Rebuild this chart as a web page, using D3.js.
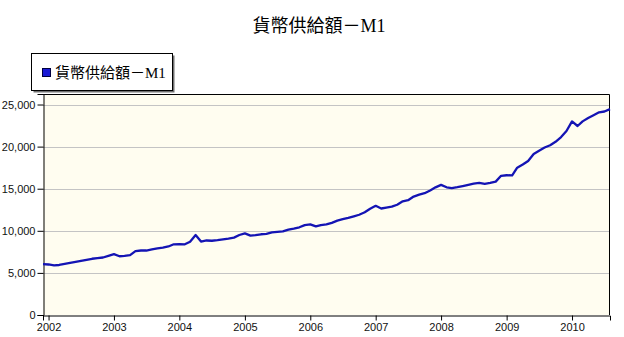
<!DOCTYPE html>
<html>
<head>
<meta charset="utf-8">
<script src="https://cdn.jsdelivr.net/npm/d3@7"></script>
<style>
  html, body { margin: 0; padding: 0; background: #ffffff; }
  svg { display: block; }
</style>
</head>
<body>
<svg id="chart" width="624" height="337"></svg>
<script>
// Monthly money supply M1, December 2001 through August 2010
const seriesName = "貨幣供給額－M1";
const startMonth = "2001-12";
const endMonth = "2010-08";
const m1Values = [
  6040,
  6000, 5900, 5940, 6060, 6180, 6300, 6430, 6560, 6680, 6760, 6830, 7030,
  7230, 6980, 7030, 7110, 7580, 7660, 7660, 7790, 7910, 8000, 8140, 8400,
  8420, 8400, 8700, 9500, 8720, 8850, 8820, 8890, 8990, 9080, 9190, 9500,
  9700, 9430, 9480, 9590, 9640, 9810, 9880, 9930, 10130, 10260, 10420, 10680,
  10760, 10520, 10670, 10760, 10950, 11210, 11380, 11530, 11720, 11910, 12200, 12620,
  12970, 12650, 12760, 12870, 13100, 13500, 13630, 14070, 14300, 14470, 14790, 15160,
  15460, 15170, 15080, 15180, 15320, 15470, 15610, 15700, 15570, 15680, 15840, 16530,
  16600, 16590, 17500, 17870, 18300, 19120, 19510, 19890, 20160, 20570, 21130, 21850,
  22990, 22450, 23000, 23400, 23730, 24080, 24170, 24450
];
const yTicks = [0, 5000, 10000, 15000, 20000, 25000];
const xTickYears = [2002, 2003, 2004, 2005, 2006, 2007, 2008, 2009, 2010];
const yMax = 26250;

const parseMonth = d3.timeParse("%Y-%m");
const months = d3.timeMonth.range(parseMonth(startMonth), d3.timeMonth.offset(parseMonth(endMonth), 1));
const data = months.map((d, i) => ({ date: d, value: m1Values[i] }));

const svg = d3.select("#chart");
const plot = { left: 43, right: 610, top: 94, bottom: 315 };

const x = d3.scaleTime()
  .domain([parseMonth(startMonth), parseMonth(endMonth)])
  .range([plot.left, plot.right]);
const y = d3.scaleLinear()
  .domain([0, yMax])
  .range([plot.bottom, plot.top]);

// Series name: CJK part in the CJK face, Latin "M1" in a serif face
function writeName(textSel) {
  const cjk = seriesName.replace(/M1$/, "");
  textSel.append("tspan")
    .style("font-family", "'Noto Sans CJK TC', sans-serif")
    .text(cjk);
  textSel.append("tspan")
    .style("font-family", "'Liberation Serif', 'Times New Roman', serif")
    .text("M1");
}

// Title
const title = svg.append("text")
  .attr("x", 319)
  .attr("y", 32)
  .attr("text-anchor", "middle")
  .style("font-size", "18px")
  .attr("fill", "#000");
writeName(title);

// Legend with drop shadow
const legend = svg.append("g");
legend.append("rect")
  .attr("x", 33.5).attr("y", 55.5).attr("width", 141).attr("height", 37)
  .attr("fill", "#707070");
legend.append("rect")
  .attr("x", 31.5).attr("y", 53.5).attr("width", 141).attr("height", 37)
  .attr("fill", "#fff").attr("stroke", "#000").attr("stroke-width", 1);
legend.append("rect")
  .attr("x", 42.5).attr("y", 68.5).attr("width", 8).attr("height", 8)
  .attr("fill", "#1a1ad6").attr("stroke", "#000040").attr("stroke-width", 1);
const legendText = legend.append("text")
  .attr("x", 55).attr("y", 78)
  .style("font-size", "15px")
  .attr("fill", "#000");
writeName(legendText);

// Plot background
svg.append("rect")
  .attr("x", plot.left).attr("y", plot.top)
  .attr("width", plot.right - plot.left).attr("height", plot.bottom - plot.top)
  .attr("fill", "#fffdf0");

// Horizontal gridlines
svg.append("g")
  .selectAll("line")
  .data(yTicks.filter(d => d > 0))
  .join("line")
  .attr("x1", plot.left).attr("x2", plot.right)
  .attr("y1", d => Math.round(y(d)) + 0.5).attr("y2", d => Math.round(y(d)) + 0.5)
  .attr("stroke", "#c4c4c4").attr("stroke-width", 1);

// Frame on top and right
svg.append("path")
  .attr("d", `M${plot.left},${plot.top + 0.5}H${plot.right - 0.5}V${plot.bottom}`)
  .attr("fill", "none").attr("stroke", "#000").attr("stroke-width", 1);

// Axes
const yAxis = d3.axisLeft(y).tickValues(yTicks).tickSize(6).tickPadding(2)
  .tickFormat(d3.format(","));
const yG = svg.append("g")
  .attr("transform", `translate(${plot.left + 0.5},0)`)
  .call(yAxis);

const xAxis = d3.axisBottom(x)
  .tickValues(xTickYears.map(yr => new Date(yr, 0, 1)))
  .tickSize(5).tickPadding(3)
  .tickFormat(d3.timeFormat("%Y"));
const xG = svg.append("g")
  .attr("transform", `translate(0,${plot.bottom + 0.5})`)
  .call(xAxis);

[yG, xG].forEach(g => {
  g.select(".domain").attr("stroke", "#000").attr("stroke-width", 1);
  g.selectAll(".tick line").attr("stroke", "#000");
  g.selectAll(".tick text")
    .attr("fill", "#111")
    .style("font-family", "'Liberation Sans', Arial, sans-serif")
    .style("font-size", "11px");
});
yG.selectAll(".tick text").attr("dy", "0.36em");

// Series line, straight segments between monthly points
const line = d3.line()
  .x(d => x(d.date))
  .y(d => y(d.value));

svg.append("path")
  .datum(data)
  .attr("fill", "none")
  .attr("stroke", "#1414b4")
  .attr("stroke-width", 2.3)
  .attr("stroke-linejoin", "round")
  .attr("d", line);
</script>
</body>
</html>
